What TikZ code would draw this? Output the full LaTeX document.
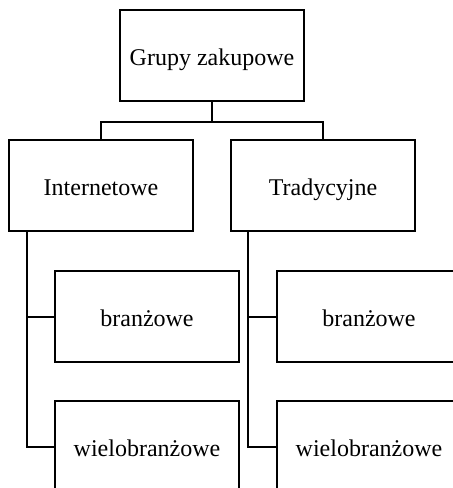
\documentclass[tikz,border=0pt]{standalone}
\usepackage{fontspec}
\setmainfont{Liberation Serif}
\begin{document}
\begin{tikzpicture}[x=0.5pt,y=-0.5pt,line width=1pt,
  box/.style={draw, minimum width=92pt, minimum height=45.5pt, inner sep=0pt,
    text height=11.5pt, text depth=2pt, font=\fontsize{12}{14}\selectfont}]
				\useasboundingbox (0,0) rectangle (453,488);
				\clip (0,0) rectangle (453,488);
				\path
				(212,55.5) node[box] (G) {Grupy zakupowe}
				(101,185.5) node[box] (I) {Internetowe}
				(323,185.5) node[box] (T) {Tradycyjne}
				(147,316.5) node[box] (IB) {branżowe}
				(147,446.5) node[box] (IW) {wielobranżowe}
				(369,316.5) node[box] (TB) {branżowe}
				(369,446.5) node[box] (TW) {wielobranżowe};
				\draw (G.south) -- ++(0,20) coordinate (m) (m) -| (I.north) (m) -| (T.north);
				\draw ([xshift=9.5pt]I.south west) coordinate (i) |- (IB.west) (i) |- (IW.west);
				\draw ([xshift=9pt]T.south west) coordinate (t) |- (TB.west) (t) |- (TW.west);
			\end{tikzpicture}
\end{document}
